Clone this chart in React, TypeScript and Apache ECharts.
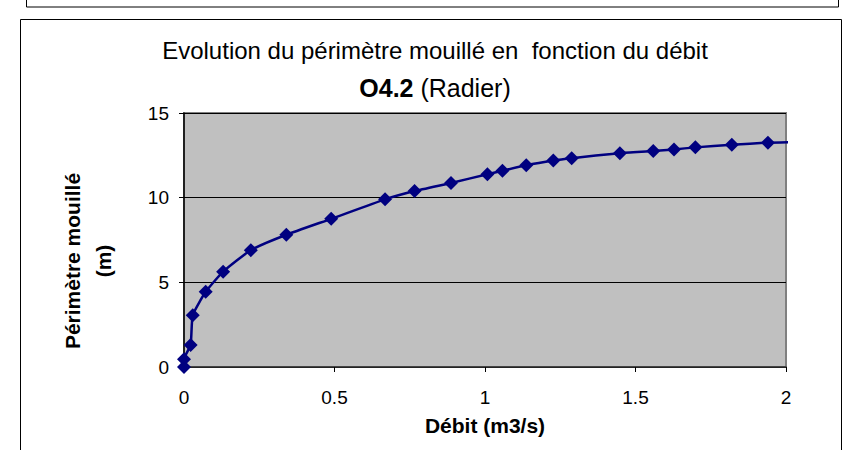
import React, { useEffect, useRef } from "react";
import * as echarts from "echarts";

const debit: number[] = [0, 0, 0.022, 0.029, 0.072, 0.13, 0.222, 0.34, 0.489, 0.668, 0.766, 0.887, 1.008, 1.058, 1.137, 1.227, 1.288, 1.448, 1.559, 1.628, 1.699, 1.82, 1.94, 2.025];
const perimetre: number[] = [0, 0.46, 1.3, 3.06, 4.44, 5.63, 6.9, 7.81, 8.75, 9.9, 10.39, 10.87, 11.38, 11.59, 11.91, 12.19, 12.33, 12.63, 12.75, 12.85, 12.97, 13.12, 13.25, 13.28];

const titleLine1 = "Evolution du périmètre mouillé en  fonction du débit";
const titleCode = "O4.2";
const titleRest = " (Radier)";
const xName = "Débit (m3/s)";
const yName = "Périmètre mouillé\n(m)";

export default function App() {
  const ref = useRef<HTMLDivElement>(null);
  useEffect(() => {
    if (!ref.current) return;
    const chart = echarts.init(ref.current, null, { renderer: "svg" });
    const font = "Liberation Sans, Arial, sans-serif";
    const data = debit.map((x, i) => {
      const item: any = { value: [x, perimetre[i]] };
      if (i === debit.length - 1) item.symbol = "none";
      return item;
    });
    chart.setOption({
      animation: false,
      backgroundColor: "#ffffff",
      textStyle: { fontFamily: font },
      graphic: [
        { type: "rect", shape: { x: 26.5, y: -5, width: 812, height: 12 }, style: { fill: "none", stroke: "#000", lineWidth: 1 } },
        { type: "rect", shape: { x: 20.5, y: 19.5, width: 821, height: 440 }, style: { fill: "none", stroke: "#000", lineWidth: 1 } },
        {
          type: "text",
          x: 88,
          y: 261,
          rotation: Math.PI / 2,
          style: {
            text: yName,
            fontFamily: font,
            fontSize: 21,
            fontWeight: "bold",
            fill: "#000",
            align: "center",
            verticalAlign: "middle",
            lineHeight: 31,
          },
        },
      ],
      title: {
        text: titleLine1 + "\n{b|" + titleCode + "}{n|" + titleRest + "}",
        left: 430,
        top: 26,
        textAlign: "center",
        textStyle: {
          fontFamily: font,
          fontSize: 24,
          fontWeight: "normal",
          color: "#000",
          lineHeight: 38,
          rich: {
            b: { fontFamily: font, fontSize: 25, fontWeight: "bold", color: "#000", lineHeight: 38 },
            n: { fontFamily: font, fontSize: 25, fontWeight: "normal", color: "#000", lineHeight: 38 },
          },
        },
      },
      grid: {
        left: 184,
        top: 113,
        right: 59,
        bottom: 83,
        show: true,
        backgroundColor: "#c0c0c0",
        borderColor: "#808080",
        borderWidth: 2,
      },
      xAxis: {
        type: "value",
        min: 0,
        max: 2,
        interval: 0.5,
        name: xName,
        nameLocation: "middle",
        nameGap: 48,
        nameTextStyle: { fontFamily: font, fontSize: 21, fontWeight: "bold", color: "#000" },
        axisLine: { show: true, lineStyle: { color: "#303030", width: 1.5 } },
        axisTick: { show: true, length: 5, inside: false, lineStyle: { color: "#000" } },
        axisLabel: { fontFamily: font, fontSize: 19, color: "#000", margin: 21 },
        splitLine: { show: false },
      },
      yAxis: {
        type: "value",
        min: 0,
        max: 15,
        interval: 5,
        axisLine: { show: true, lineStyle: { color: "#000", width: 1.5 } },
        axisTick: { show: true, length: 5, lineStyle: { color: "#000" } },
        axisLabel: { fontFamily: font, fontSize: 19, color: "#000", margin: 15 },
        splitLine: { show: true, lineStyle: { color: "#000", width: 1 } },
      },
      series: [
        {
          type: "line",
          data,
          smooth: 0.15,
          clip: false,
          symbol: "diamond",
          symbolSize: 14,
          lineStyle: { color: "#000080", width: 2.5 },
          itemStyle: { color: "#000080" },
        },
      ],
    });
    return () => chart.dispose();
  }, []);
  return (
    <div
      ref={ref}
      style={{ position: "absolute", left: 0, top: 0, width: 845, height: 450 }}
    />
  );
}
